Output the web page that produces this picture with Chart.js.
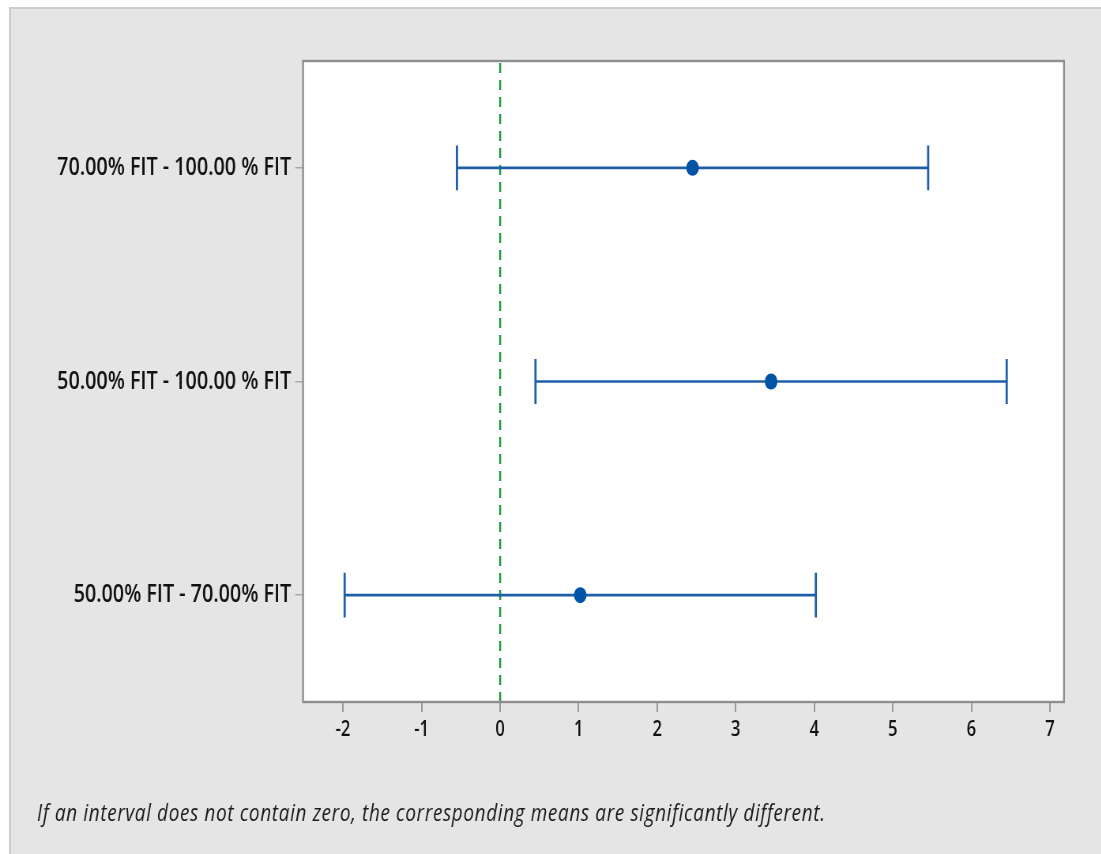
<!DOCTYPE html>
<html>
<head>
<meta charset="utf-8">
<script src="https://cdn.jsdelivr.net/npm/chart.js@4/dist/chart.umd.min.js"></script>
<style>
  html, body { margin: 0; padding: 0; background: #ffffff; width: 1101px; height: 854px; overflow: hidden; }
  #bg { position: absolute; left: 9px; top: 7px; width: 1100px; height: 860px; background: #e5e5e5;
        border-left: 2px solid #cdcdcd; border-top: 2px solid #cdcdcd; }
  #wrap { position: absolute; left: 0; top: 0; width: 1394px; height: 854px;
          transform: scaleX(0.79); transform-origin: 0 0; }
</style>
</head>
<body>
<div id="bg"></div>
<div id="wrap"><canvas id="c" width="1394" height="854"></canvas></div>
<script>
// Categories from bottom (y = 0) to top (y = 2)
const categories = ['50.00% FIT - 70.00% FIT', '50.00% FIT - 100.00 % FIT', '70.00% FIT - 100.00 % FIT'];
const diffs = [1.02, 3.45, 2.45];
const lower = [-1.98, 0.45, -0.55];
const upper = [4.02, 6.45, 5.45];
const xTicks = [-2, -1, 0, 1, 2, 3, 4, 5, 6, 7];
const footnote = 'If an interval does not contain zero, the corresponding means are significantly different.';

const S = 0.79;           // horizontal compression of the whole picture
const CAP = 0.105;        // half-height of interval end caps (in category units)
const BLUE_LINE = '#1f5fa8';
const BLUE_DOT = '#0054a6';
const GREEN = '#1e9a3c';

const datasets = [];
// zero reference line
datasets.push({
  data: [{x: 0, y: -0.5}, {x: 0, y: 2.5}],
  showLine: true, borderColor: GREEN, borderWidth: 2.4, borderDash: [10, 7],
  pointRadius: 0, order: 3
});
categories.forEach((c, i) => {
  datasets.push({
    data: [{x: lower[i], y: i}, {x: upper[i], y: i}],
    showLine: true, borderColor: BLUE_LINE, borderWidth: 2.6, pointRadius: 0, order: 2
  });
  datasets.push({
    data: [{x: lower[i], y: i - CAP}, {x: lower[i], y: i + CAP}],
    showLine: true, borderColor: BLUE_LINE, borderWidth: 2.8, pointRadius: 0, order: 2
  });
  datasets.push({
    data: [{x: upper[i], y: i - CAP}, {x: upper[i], y: i + CAP}],
    showLine: true, borderColor: BLUE_LINE, borderWidth: 2.8, pointRadius: 0, order: 2
  });
});
datasets.push({
  data: diffs.map((d, i) => ({x: d, y: i})),
  showLine: false, pointRadius: 8, pointBackgroundColor: BLUE_DOT, pointBorderColor: BLUE_DOT,
  pointBorderWidth: 0, order: 1
});

const framePlugin = {
  id: 'frame',
  beforeDatasetsDraw(chart) {
    const a = chart.chartArea, ctx = chart.ctx;
    ctx.save();
    ctx.fillStyle = '#ffffff';
    ctx.fillRect(a.left, a.top, a.right - a.left, a.bottom - a.top);
    ctx.restore();
  },
  afterDatasetsDraw(chart) {
    const a = chart.chartArea, ctx = chart.ctx;
    ctx.save();
    ctx.strokeStyle = '#8e8e8e';
    ctx.lineWidth = 2.4;
    ctx.strokeRect(a.left, a.top, a.right - a.left, a.bottom - a.top);
    ctx.fillStyle = '#1a1a1a';
    ctx.font = 'italic 24px "Open Sans"';
    if ('letterSpacing' in ctx) ctx.letterSpacing = '0.8px';
    ctx.textBaseline = 'alphabetic';
    ctx.fillText(footnote, 37 / S, 821);
    ctx.restore();
  }
};

new Chart(document.getElementById('c'), {
  type: 'scatter',
  data: { datasets },
  plugins: [framePlugin],
  options: {
    responsive: false, animation: false,
    layout: { padding: { left: 0, top: 61, right: 1394 - 1064 / S, bottom: 102 } },
    plugins: { legend: { display: false }, tooltip: { enabled: false } },
    scales: {
      x: {
        type: 'linear', min: -2.51, max: 7.18,
        afterBuildTicks: s => { s.ticks = xTicks.map(v => ({value: v})); },
        afterFit: s => { s.height = 50; },
        border: { display: false },
        grid: { drawOnChartArea: false, drawTicks: true, tickLength: 10, color: '#9a9a9a', lineWidth: 2 },
        ticks: { color: '#111111', padding: 5, font: { family: 'Open Sans', size: 21, weight: 600 } }
      },
      y: {
        type: 'linear', min: -0.5, max: 2.5,
        afterBuildTicks: s => { s.ticks = categories.map((c, i) => ({value: i})); },
        afterFit: s => { s.width = 303 / S; },
        border: { display: false },
        grid: { drawOnChartArea: false, drawTicks: true, tickLength: 10, color: '#a8a8a8', lineWidth: 1.5 },
        ticks: { color: '#111111', padding: 5, font: { family: 'Open Sans', size: 25, weight: 600 },
                 callback: v => categories[v] }
      }
    }
  }
});
</script>
</body>
</html>
